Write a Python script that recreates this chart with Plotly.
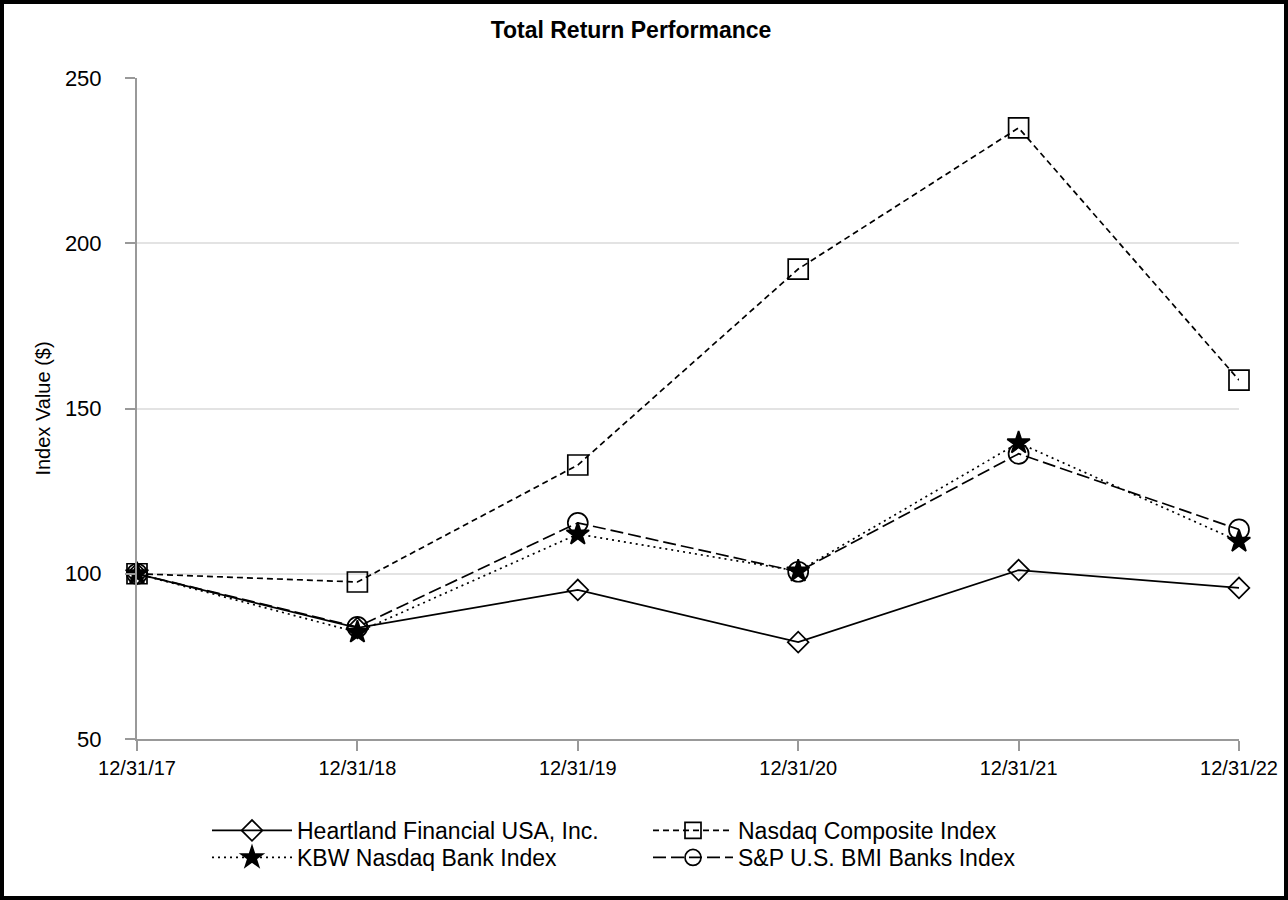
import plotly.graph_objects as go

dates = ["12/31/17", "12/31/18", "12/31/19", "12/31/20", "12/31/21", "12/31/22"]
heartland = [100.0, 83.6, 95.1, 79.3, 101.1, 95.7]
nasdaq = [100.0, 97.5, 132.9, 192.2, 234.9, 158.6]
kbw = [100.0, 82.3, 112.0, 100.8, 139.6, 109.8]
sp_banks = [100.0, 83.9, 115.4, 100.6, 136.3, 113.4]
y_ticks = [50, 100, 150, 200, 250]

series = [
    ("Heartland Financial USA, Inc.", heartland, "solid", "diamond-open", 16, "legend"),
    ("Nasdaq Composite Index", nasdaq, "6px,4px", "square-open", 20, "legend"),
    ("KBW Nasdaq Bank Index", kbw, "2px,4px", "star", 17, "legend2"),
    ("S&P U.S. BMI Banks Index", sp_banks, "13px,5px", "circle-open", 20, "legend2"),
]

fig = go.Figure()
for name, vals, dash, sym, size, leg in series:
    fig.add_trace(go.Scatter(
        x=dates, y=vals, name=name, mode="lines+markers", legend=leg,
        cliponaxis=False,
        line=dict(color="black", width=1.7, dash=dash),
        marker=dict(symbol=sym, size=size, color="black",
                    line=dict(color="black", width=1.7)),
    ))

W, H = 1288, 900
ml, mr, mt, mb = 137, 49, 78, 161
pw, ph = W - ml - mr, H - mt - mb

leg_common = dict(orientation="h", x=(207 - ml) / pw, xanchor="left", yanchor="top",
                  entrywidth=346, entrywidthmode="pixels", itemwidth=80,
                  font=dict(size=23), bgcolor="rgba(0,0,0,0)")

fig.update_layout(
    width=W, height=H,
    margin=dict(l=ml, r=mr, t=mt, b=mb, autoexpand=False),
    paper_bgcolor="white", plot_bgcolor="white",
    font=dict(family="Liberation Sans, Arial, sans-serif", color="black", size=20),
    title=dict(text="<b>Total Return Performance</b>", x=631 / W, xanchor="center",
               y=1 - 30 / H, yanchor="middle", font=dict(size=23)),
    showlegend=True,
    legend=dict(y=-(809 - (mt + ph)) / ph, **leg_common),
    legend2=dict(y=-(836 - (mt + ph)) / ph, **leg_common),
    xaxis=dict(type="category", range=[0, 5], showgrid=False,
               showline=True, linecolor="#999999", linewidth=2,
               ticks="outside", tickcolor="#999999", ticklen=10, tickwidth=2,
               ticklabelstandoff=0,
               tickfont=dict(size=20), zeroline=False),
    yaxis=dict(range=[50, 250], tickvals=y_ticks, showgrid=True,
               gridcolor="#e3e3e3", gridwidth=2,
               showline=True, linecolor="#999999", linewidth=2,
               ticks="outside", tickcolor="#999999", ticklen=10, tickwidth=2,
               ticklabelstandoff=19,
               tickfont=dict(size=22), zeroline=False,
               title=dict(text="Index Value ($)", font=dict(size=20), standoff=9)),
    shapes=[dict(type="rect", xref="paper", yref="paper",
                 x0=-(ml - 2) / pw, x1=1 + (mr - 2) / pw,
                 y0=-(mb - 2) / ph, y1=1 + (mt - 2) / ph,
                 line=dict(color="black", width=4), fillcolor="rgba(0,0,0,0)")],
)

fig.write_html("out.html", config={"displayModeBar": False},
               post_script="document.body.style.margin='0';document.body.style.overflow='hidden';")
